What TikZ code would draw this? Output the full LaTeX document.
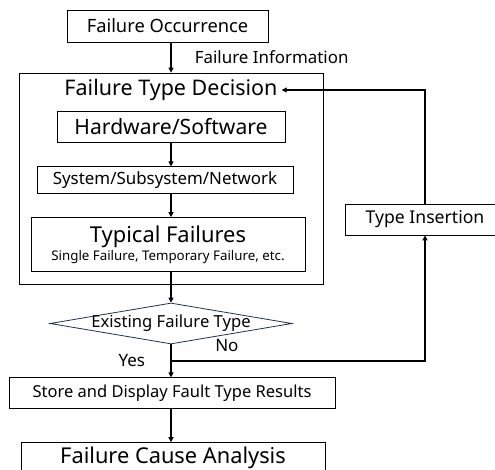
\documentclass[tikz,border=0pt]{standalone}
\usepackage{fontspec}
\setmainfont{Noto Sans}
\usetikzlibrary{arrows.meta, positioning, shapes.geometric}
\definecolor{decisionline}{RGB}{30,50,78}

\begin{document}
\begin{tikzpicture}[x=1pt,y=-1pt,>={Triangle[length=5pt,width=5pt]},
	box/.style={draw,rectangle,line width=0.8pt,inner sep=0pt},
	flow/.style={->,line width=1.1pt},
	bigtext/.style={font=\fontsize{21.5}{23}\selectfont},
	midtext/.style={font=\fontsize{17}{19}\selectfont}]
			\useasboundingbox (0,0) rectangle (495,470);
			\node[box,minimum width=304pt,minimum height=211pt] (decision) at (171,178.5) {};
			\node[bigtext,inner sep=4pt] (title) at (171,90) {Failure Type Decision};
			\node[box,font=\fontsize{18.3}{20}\selectfont,minimum width=201pt,minimum height=32pt] (occurrence) at (167.5,26) {Failure Occurrence};
			\node[box,font=\fontsize{21.1}{23}\selectfont,minimum width=228pt,minimum height=31pt] (hw) at (171,126.5) {Hardware/Software};
			\node[box,font=\fontsize{16.9}{19}\selectfont,minimum width=256pt,minimum height=27pt,below=24pt of hw,xshift=-6pt] (system) {System/Subsystem/Network};
			\node[box,minimum width=274pt,minimum height=54pt,below=23pt of system,xshift=3pt,align=center] (typical)
				{{\fontsize{21.9}{22}\selectfont Typical Failures}\\[1pt]{\fontsize{13.3}{14}\selectfont Single Failure, Temporary Failure, etc.}};
			\node[draw=decisionline,line width=0.8pt,diamond,aspect=5.9,inner sep=0pt,minimum width=242pt,minimum height=41pt,
				label={[font=\fontsize{16.6}{18}\selectfont]center:Existing Failure Type}] (existing) at (171,323.5) {};
			\node[box,font=\fontsize{16.5}{18}\selectfont,minimum width=326pt,minimum height=31pt,below=33pt of existing,xshift=1pt] (store) {Store and Display Fault Type Results};
			\node[box,font=\fontsize{21.8}{23}\selectfont,minimum width=304pt,minimum height=30pt,below=33pt of store,xshift=1pt] (cause) {Failure Cause Analysis};
			\node[box,font=\fontsize{17.6}{19}\selectfont,minimum width=160pt,minimum height=31pt] (insertion) at (425,219.5) {Type Insertion};
			\coordinate (branch) at (171,361);
			\draw[flow] (occurrence.south -| decision.north) -- (decision.north)
				node[midway,right,xshift=20pt,font=\fontsize{16.9}{18}\selectfont]{Failure Information};
			\draw[flow] (hw.south -| decision.north) -- (system.north -| decision.north);
			\draw[flow] (system.south -| decision.north) -- (typical.north -| decision.north);
			\draw[flow] (typical.south -| decision.north) -- (existing.north);
			\draw[flow] (existing.south) -- (store.north -| existing.south)
				node[midway,left,xshift=-22pt,font=\fontsize{17}{19}\selectfont]{Yes};
			\draw[flow] (branch) -| (insertion.south)
				node[pos=0.11,above,yshift=5pt,font=\fontsize{17}{19}\selectfont]{No};
			\draw[flow] (insertion.north) |- (title.east);
			\draw[flow] (store.south -| existing.south) -- (cause.north -| existing.south);
		\end{tikzpicture}
\end{document}
